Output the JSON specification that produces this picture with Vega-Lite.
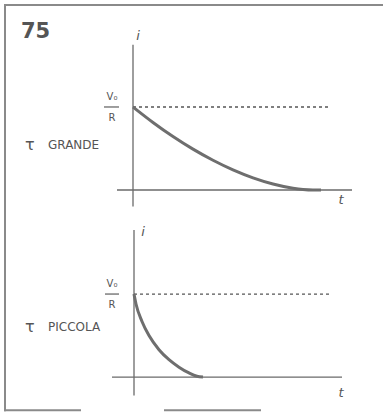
{
  "$schema": "https://vega.github.io/schema/vega-lite/v6.json",
  "padding": 0,
  "spacing": 0,
  "bounds": "flush",
  "background": "white",
  "config": {"view": {"stroke": null}},
  "datasets": {
    "curve": [
      {"panel": "top", "t": 0, "i": 1.0},
      {"panel": "top", "t": 1, "i": 0.814},
      {"panel": "top", "t": 2, "i": 0.644},
      {"panel": "top", "t": 3, "i": 0.492},
      {"panel": "top", "t": 4, "i": 0.358},
      {"panel": "top", "t": 5, "i": 0.242},
      {"panel": "top", "t": 6, "i": 0.146},
      {"panel": "top", "t": 7, "i": 0.072},
      {"panel": "top", "t": 8, "i": 0.021},
      {"panel": "top", "t": 8.5, "i": 0.006},
      {"panel": "top", "t": 9, "i": 0.0},
      {"panel": "top", "t": 9.4, "i": 0.0},
      {"panel": "bottom", "t": 0.05, "i": 1.0},
      {"panel": "bottom", "t": 0.15, "i": 0.88},
      {"panel": "bottom", "t": 0.45, "i": 0.67},
      {"panel": "bottom", "t": 0.8, "i": 0.5},
      {"panel": "bottom", "t": 1.3, "i": 0.33},
      {"panel": "bottom", "t": 1.8, "i": 0.21},
      {"panel": "bottom", "t": 2.3, "i": 0.12},
      {"panel": "bottom", "t": 2.8, "i": 0.05},
      {"panel": "bottom", "t": 3.2, "i": 0.01},
      {"panel": "bottom", "t": 3.5, "i": 0.0}
    ],
    "axes": [
      {"panel": "top", "t": 0, "i": -0.2, "t2": 0, "i2": 1.75},
      {"panel": "top", "t": -0.8, "i": 0, "t2": 10.95, "i2": 0},
      {"panel": "top", "t": -1.45, "i": 1, "t2": -0.7, "i2": 1},
      {"panel": "bottom", "t": 0.05, "i": -0.22, "t2": 0.05, "i2": 1.77},
      {"panel": "bottom", "t": -1.05, "i": 0, "t2": 10.45, "i2": 0},
      {"panel": "bottom", "t": -1.4, "i": 1, "t2": -0.7, "i2": 1}
    ],
    "dashes": [
      {"panel": "top", "t": 0, "i": 1, "t2": 9.85, "i2": 1},
      {"panel": "bottom", "t": 0.05, "i": 1, "t2": 9.8, "i2": 1}
    ],
    "frame": [
      {"panel": "top", "t": -6.4, "i": -0.2, "t2": -6.4, "i2": 2.23},
      {"panel": "top", "t": -6.4, "i": 2.23, "t2": 12.5, "i2": 2.23},
      {"panel": "bottom", "t": -6.4, "i": -0.4, "t2": -6.4, "i2": 2.07},
      {"panel": "bottom", "t": -6.4, "i": -0.4, "t2": -2.65, "i2": -0.4},
      {"panel": "bottom", "t": 1.6, "i": -0.4, "t2": 6.35, "i2": -0.4}
    ],
    "figno": [
      {"panel": "top", "t": -5.6, "i": 1.83, "label": "75"}
    ],
    "tau": [
      {"panel": "top", "t": -5.4, "i": 0.54, "label": "τ"},
      {"panel": "bottom", "t": -5.4, "i": 0.6, "label": "τ"}
    ],
    "names": [
      {"panel": "top", "t": -4.25, "i": 0.54, "label": "GRANDE"},
      {"panel": "bottom", "t": -4.25, "i": 0.6, "label": "PICCOLA"}
    ],
    "letters": [
      {"panel": "top", "t": 0.25, "i": 1.81, "label": "i"},
      {"panel": "top", "t": 10.4, "i": -0.17, "label": "t"},
      {"panel": "bottom", "t": 0.5, "i": 1.7, "label": "i"},
      {"panel": "bottom", "t": 10.4, "i": -0.24, "label": "t"}
    ],
    "fraction": [
      {"panel": "top", "t": -1.05, "i": 1.12, "label": "V₀"},
      {"panel": "top", "t": -1.05, "i": 0.87, "label": "R"},
      {"panel": "bottom", "t": -1.05, "i": 1.12, "label": "V₀"},
      {"panel": "bottom", "t": -1.05, "i": 0.87, "label": "R"}
    ]
  },
  "vconcat": [
    {
      "width": 383,
      "height": 206,
      "encoding": {
        "x": {"field": "t", "type": "quantitative", "scale": {"domain": [-6.65, 12.5], "nice": false, "zero": false}, "axis": null},
        "y": {"field": "i", "type": "quantitative", "scale": {"domain": [-0.193, 2.289], "nice": false, "zero": false}, "axis": null}
      },
      "layer": [
        {"data": {"name": "frame"}, "transform": [{"filter": "datum.panel == 'top'"}],
         "mark": {"type": "rule", "color": "#8a8a8a", "strokeWidth": 2, "strokeCap": "square"},
         "encoding": {"x2": {"field": "t2"}, "y2": {"field": "i2"}}},
        {"data": {"name": "axes"}, "transform": [{"filter": "datum.panel == 'top'"}],
         "mark": {"type": "rule", "color": "#6a6a6a", "strokeWidth": 1.3},
         "encoding": {"x2": {"field": "t2"}, "y2": {"field": "i2"}}},
        {"data": {"name": "dashes"}, "transform": [{"filter": "datum.panel == 'top'"}],
         "mark": {"type": "rule", "color": "#555555", "strokeWidth": 1.3, "strokeDash": [3, 3]},
         "encoding": {"x2": {"field": "t2"}, "y2": {"field": "i2"}}},
        {"data": {"name": "curve"}, "transform": [{"filter": "datum.panel == 'top'"}],
         "mark": {"type": "line", "color": "#6e6e6e", "strokeWidth": 3, "interpolate": "monotone"}},
        {"data": {"name": "figno"}, "transform": [{"filter": "datum.panel == 'top'"}],
         "mark": {"type": "text", "align": "left", "baseline": "alphabetic", "fontSize": 21, "fontWeight": "bold", "font": "DejaVu Sans", "color": "#555555"},
         "encoding": {"text": {"field": "label"}}},
        {"data": {"name": "tau"}, "transform": [{"filter": "datum.panel == 'top'"}],
         "mark": {"type": "text", "align": "left", "baseline": "middle", "fontSize": 16, "font": "DejaVu Sans", "color": "#555555"},
         "encoding": {"text": {"field": "label"}}},
        {"data": {"name": "names"}, "transform": [{"filter": "datum.panel == 'top'"}],
         "mark": {"type": "text", "align": "left", "baseline": "middle", "fontSize": 12, "font": "DejaVu Sans", "color": "#555555"},
         "encoding": {"text": {"field": "label"}}},
        {"data": {"name": "letters"}, "transform": [{"filter": "datum.panel == 'top'"}],
         "mark": {"type": "text", "align": "center", "baseline": "alphabetic", "fontSize": 13, "fontStyle": "italic", "font": "DejaVu Sans", "color": "#555555"},
         "encoding": {"text": {"field": "label"}}},
        {"data": {"name": "fraction"}, "transform": [{"filter": "datum.panel == 'top'"}],
         "mark": {"type": "text", "align": "center", "baseline": "middle", "fontSize": 10, "font": "DejaVu Sans", "color": "#555555"},
         "encoding": {"text": {"field": "label"}}}
      ]
    },
    {
      "width": 383,
      "height": 206,
      "encoding": {
        "x": {"field": "t", "type": "quantitative", "scale": {"domain": [-6.65, 12.5], "nice": false, "zero": false}, "axis": null},
        "y": {"field": "i", "type": "quantitative", "scale": {"domain": [-0.42, 2.06], "nice": false, "zero": false}, "axis": null}
      },
      "layer": [
        {"data": {"name": "frame"}, "transform": [{"filter": "datum.panel == 'bottom'"}],
         "mark": {"type": "rule", "color": "#8a8a8a", "strokeWidth": 2, "strokeCap": "square"},
         "encoding": {"x2": {"field": "t2"}, "y2": {"field": "i2"}}},
        {"data": {"name": "axes"}, "transform": [{"filter": "datum.panel == 'bottom'"}],
         "mark": {"type": "rule", "color": "#6a6a6a", "strokeWidth": 1.3},
         "encoding": {"x2": {"field": "t2"}, "y2": {"field": "i2"}}},
        {"data": {"name": "dashes"}, "transform": [{"filter": "datum.panel == 'bottom'"}],
         "mark": {"type": "rule", "color": "#555555", "strokeWidth": 1.3, "strokeDash": [3, 3]},
         "encoding": {"x2": {"field": "t2"}, "y2": {"field": "i2"}}},
        {"data": {"name": "curve"}, "transform": [{"filter": "datum.panel == 'bottom'"}],
         "mark": {"type": "line", "color": "#6e6e6e", "strokeWidth": 3, "interpolate": "monotone"}},
        {"data": {"name": "tau"}, "transform": [{"filter": "datum.panel == 'bottom'"}],
         "mark": {"type": "text", "align": "left", "baseline": "middle", "fontSize": 16, "font": "DejaVu Sans", "color": "#555555"},
         "encoding": {"text": {"field": "label"}}},
        {"data": {"name": "names"}, "transform": [{"filter": "datum.panel == 'bottom'"}],
         "mark": {"type": "text", "align": "left", "baseline": "middle", "fontSize": 12, "font": "DejaVu Sans", "color": "#555555"},
         "encoding": {"text": {"field": "label"}}},
        {"data": {"name": "letters"}, "transform": [{"filter": "datum.panel == 'bottom'"}],
         "mark": {"type": "text", "align": "center", "baseline": "alphabetic", "fontSize": 13, "fontStyle": "italic", "font": "DejaVu Sans", "color": "#555555"},
         "encoding": {"text": {"field": "label"}}},
        {"data": {"name": "fraction"}, "transform": [{"filter": "datum.panel == 'bottom'"}],
         "mark": {"type": "text", "align": "center", "baseline": "middle", "fontSize": 10, "font": "DejaVu Sans", "color": "#555555"},
         "encoding": {"text": {"field": "label"}}}
      ]
    }
  ]
}
